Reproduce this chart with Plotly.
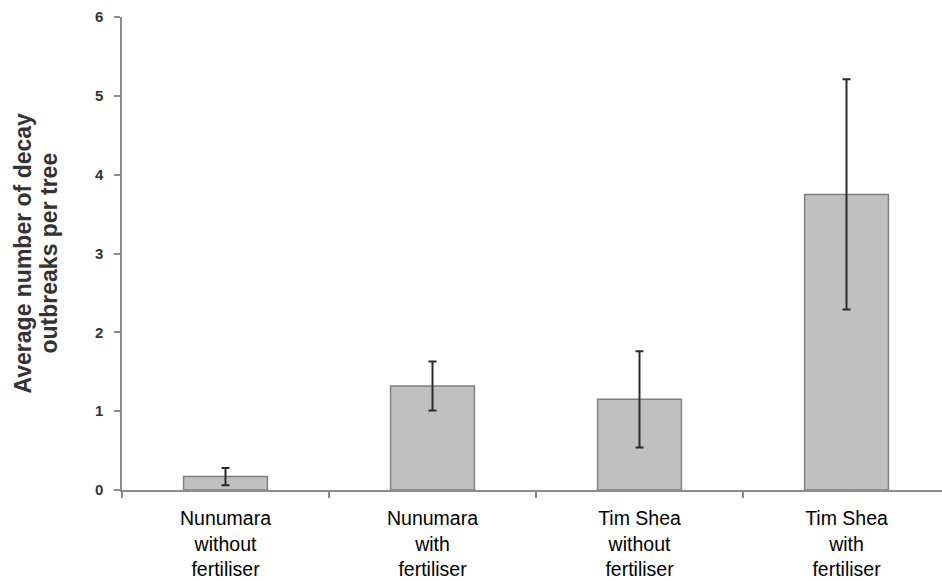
import plotly.graph_objects as go

# Decay outbreaks per tree by site and treatment
categories = [
    "Nunumara<br>without<br>fertiliser",
    "Nunumara<br>with<br>fertiliser",
    "Tim Shea<br>without<br>fertiliser",
    "Tim Shea<br>with<br>fertiliser",
]
mean_outbreaks = [0.17, 1.32, 1.15, 3.75]
error_outbreaks = [0.11, 0.31, 0.61, 1.46]
y_ticks = [0, 1, 2, 3, 4, 5, 6]

W, H = 942, 581
left, top, bottom = 122, 17, 91
cat_px = 207.0
plot_w = W - left

fig = go.Figure()
fig.add_trace(go.Bar(
    x=categories,
    y=mean_outbreaks,
    width=0.405,
    marker=dict(color="#c0c0c0", line=dict(color="#7f7f7f", width=1.5)),
    error_y=dict(type="data", array=error_outbreaks, visible=True,
                 color="#2b2b2b", thickness=2, width=4),
    hoverinfo="skip",
))

fig.update_layout(
    width=W, height=H,
    margin=dict(l=left, r=0, t=top, b=bottom, pad=0),
    paper_bgcolor="white", plot_bgcolor="white",
    showlegend=False,
    font=dict(family="Liberation Sans, Arial, sans-serif", color="black"),
    xaxis=dict(
        type="category",
        range=[-0.5, -0.5 + plot_w / cat_px],
        showline=True, linecolor="#8c8c8c", linewidth=1.5,
        ticks="outside", tickson="boundaries", ticklen=6,
        tickcolor="#8c8c8c", tickwidth=1.5,
        tickfont=dict(size=19.5, color="black"),
        ticklabelstandoff=10,
        automargin=False,
        showgrid=False, zeroline=False,
        fixedrange=True,
    ),
    yaxis=dict(
        range=[0, 6],
        tickvals=y_ticks,
        showline=True, linecolor="#8c8c8c", linewidth=1.5,
        ticks="outside", ticklen=6, tickcolor="#8c8c8c", tickwidth=1.5,
        tickfont=dict(size=15, color="#333333", weight="bold"),
        ticklabelstandoff=8,
        automargin=False,
        showgrid=False, zeroline=False,
        fixedrange=True,
    ),
)

# Two-line rotated axis title
for text, xpx in [("Average number of decay", 22), ("outbreaks per tree", 48)]:
    fig.add_annotation(
        text=text, textangle=-90,
        xref="paper", yref="paper",
        x=(xpx - left) / plot_w, y=0.5,
        xanchor="center", yanchor="middle",
        showarrow=False,
        font=dict(size=23, color="#333333", weight="bold"),
    )

fig.write_html("out.html")
